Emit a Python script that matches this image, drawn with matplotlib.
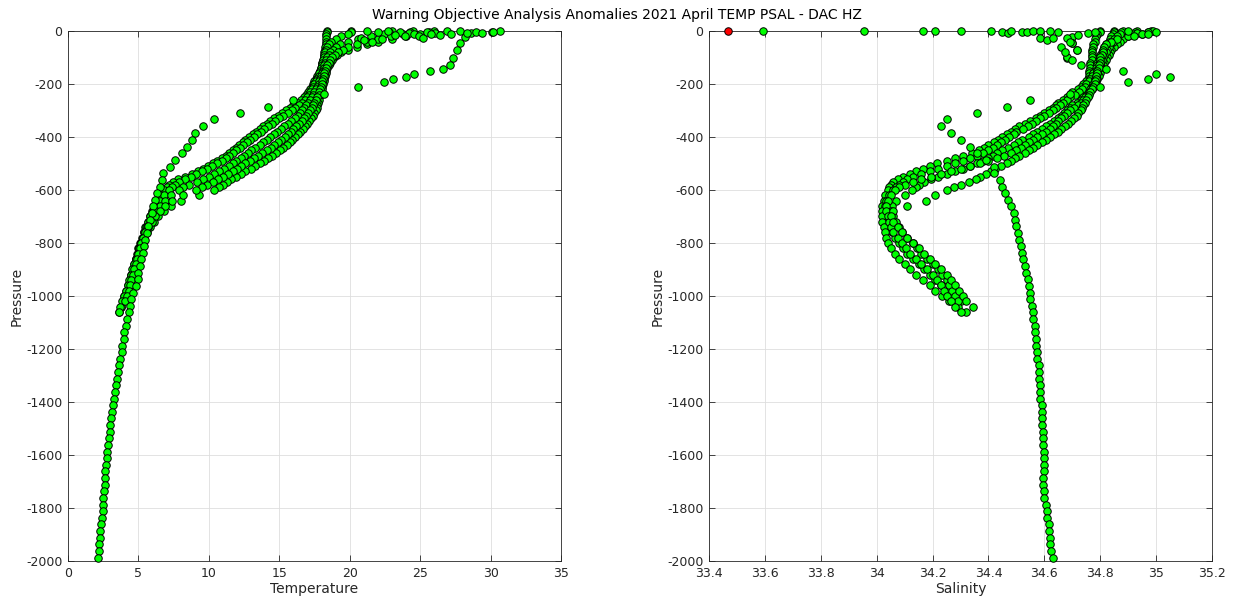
import matplotlib
matplotlib.use("Agg")
import matplotlib.pyplot as plt
from matplotlib.ticker import FuncFormatter

# pressure levels shared by the five main profiles
P_GRID = [0, -5, -10, -20, -30, -40, -50, -60, -70, -80,
          -90, -100, -110, -120, -130, -140, -150, -160, -170, -180,
          -190, -200, -210, -220, -230, -240, -250, -260, -270, -280,
          -290, -300, -310, -320, -330, -340, -350, -360, -370, -380,
          -390, -400, -410, -420, -430, -440, -450, -460, -470, -480,
          -490, -500, -510, -520, -530, -540, -550, -560, -570, -580,
          -590, -600, -620, -640, -660, -680, -700, -720, -740, -760,
          -780, -800, -820, -840, -860, -880, -900, -920, -940, -960,
          -980, -1000, -1020, -1040, -1060]

TEMP_1 = [18.4, 18.4, 18.35, 18.35, 18.3, 18.3, 18.3, 18.25, 18.25, 18.2,
          18.2, 18.15, 18.1, 18.05, 18.0, 17.95, 17.9, 17.8, 17.7, 17.6,
          17.5, 17.4, 17.3, 17.2, 17.05, 16.9, 16.75, 16.55, 16.3, 16.0,
          15.75, 15.5, 15.2, 14.9, 14.6, 14.35, 14.1, 13.85, 13.6, 13.35,
          13.1, 12.85, 12.6, 12.4, 12.15, 11.9, 11.7, 11.45, 11.2, 10.9,
          10.6, 10.3, 9.95, 9.6, 9.2, 8.8, 8.3, 7.8, 7.45, 7.2,
          7.0, 6.85, 6.6, 6.35, 6.15, 5.95, 5.8, 5.65, 5.5, 5.4,
          5.25, 5.1, 5.0, 4.9, 4.8, 4.7, 4.6, 4.5, 4.4, 4.25,
          4.15, 4.0, 3.9, 3.75]
TEMP_2 = [20.1, 20.1, 19.9, 19.4, 19.0, 18.7, 18.5, 18.4, 18.3, 18.25,
          18.2, 18.15, 18.1, 18.05, 18.0, 17.95, 17.9, 17.85, 17.8, 17.7,
          17.6, 17.5, 17.4, 17.3, 17.2, 17.1, 16.95, 16.8, 16.6, 16.4,
          16.15, 15.9, 15.6, 15.3, 15.0, 14.7, 14.45, 14.2, 13.95, 13.7,
          13.45, 13.2, 12.95, 12.7, 12.45, 12.2, 11.95, 11.7, 11.45, 11.2,
          10.9, 10.6, 10.25, 9.9, 9.5, 9.1, 8.7, 8.3, 7.9, 7.6,
          7.35, 7.15, 6.8, 6.5, 6.25, 6.0, 5.85, 5.7, 5.55, 5.4,
          5.3, 5.15, 5.05, 4.95, 4.85, 4.75, 4.6, 4.5, 4.4, 4.3,
          4.2, 4.05, 3.9, 3.75, 3.6]
TEMP_3 = [23.0, 22.8, 22.4, 21.5, 20.6, 19.9, 19.3, 19.0, 18.8, 18.6,
          18.5, 18.4, 18.3, 18.25, 18.2, 18.15, 18.1, 18.0, 17.95, 17.9,
          17.85, 17.8, 17.7, 17.6, 17.5, 17.4, 17.3, 17.2, 17.05, 16.9,
          16.75, 16.6, 16.5, 16.3, 16.1, 15.85, 15.6, 15.35, 15.1, 14.85,
          14.6, 14.35, 14.1, 13.85, 13.6, 13.3, 13.0, 12.75, 12.5, 12.25,
          11.95, 11.7, 11.4, 11.1, 10.75, 10.4, 10.0, 9.6, 9.15, 8.6,
          8.2, 7.85, 7.3, 6.9, 6.55, 6.25, 6.0, 5.8, 5.6, 5.45,
          5.3, 5.15, 5.05, 4.95, 4.85, 4.75, 4.65, 4.55, 4.45, 4.35,
          4.2, 4.1, 3.95]
TEMP_4 = [26.0, 25.6, 25.0, 24.0, 23.0, 22.0, 21.2, 20.5, 19.9, 19.4,
          19.1, 18.9, 18.75, 18.6, 18.5, 18.4, 18.35, 18.3, 18.25, 18.2,
          18.15, 18.1, 18.05, 18.0, 17.95, 17.9, 17.85, 17.8, 17.75, 17.7,
          17.65, 17.6, 17.5, 17.4, 17.25, 17.1, 16.95, 16.8, 16.65, 16.5,
          16.3, 16.1, 15.9, 15.75, 15.55, 15.3, 15.05, 14.8, 14.5, 14.2,
          13.9, 13.6, 13.3, 13.0, 12.6, 12.25, 11.95, 11.6, 11.3, 11.0,
          10.7, 10.4, 9.3, 8.0, 7.3, 6.8, 6.4, 6.1, 5.85, 5.6,
          5.4, 5.2, 5.05, 4.95, 4.85, 4.7, 4.55, 4.45, 4.35, 4.25,
          4.1, 4.0, 3.85, 3.7, 3.6]
TEMP_5 = [24.5, 24.3, 23.8, 22.9, 22.0, 21.2, 20.5, 19.9, 19.5, 19.2,
          18.95, 18.75, 18.6, 18.5, 18.4, 18.3, 18.25, 18.2, 18.15, 18.1,
          18.05, 18.0, 17.95, 17.9, 17.85, 17.8, 17.7, 17.6, 17.5, 17.4,
          17.3, 17.2, 17.05, 16.9, 16.75, 16.6, 16.4, 16.2, 16.0, 15.8,
          15.6, 15.4, 15.15, 14.9, 14.65, 14.4, 14.1, 13.8, 13.5, 13.2,
          12.9, 12.6, 12.3, 12.0, 11.7, 11.35, 11.0, 10.65, 10.3, 9.9,
          9.5, 9.1, 8.2, 7.4, 6.9, 6.5, 6.2, 5.95, 5.7, 5.5,
          5.35, 5.2, 5.1, 5.0, 4.9, 4.8, 4.7, 4.6, 4.5, 4.4,
          4.3, 4.2, 4.05]

PSAL_1 = [34.80, 34.80, 34.79, 34.785, 34.78, 34.78, 34.775, 34.775, 34.77, 34.77,
          34.77, 34.77, 34.77, 34.765, 34.765, 34.765, 34.76, 34.76, 34.76, 34.755,
          34.75, 34.74, 34.73, 34.72, 34.70, 34.69, 34.68, 34.665, 34.65, 34.64,
          34.63, 34.615, 34.60, 34.585, 34.57, 34.55, 34.53, 34.51, 34.495, 34.48,
          34.465, 34.45, 34.435, 34.42, 34.40, 34.385, 34.365, 34.34, 34.31, 34.28,
          34.25, 34.215, 34.19, 34.165, 34.14, 34.12, 34.095, 34.075, 34.06, 34.05,
          34.045, 34.04, 34.03, 34.025, 34.02, 34.025, 34.03, 34.035, 34.045, 34.055,
          34.065, 34.08, 34.095, 34.11, 34.13, 34.15, 34.17, 34.19, 34.21, 34.23,
          34.25, 34.27, 34.30, 34.345]
PSAL_2 = [34.85, 34.85, 34.845, 34.84, 34.835, 34.83, 34.82, 34.815, 34.81, 34.805,
          34.80, 34.80, 34.795, 34.79, 34.79, 34.785, 34.78, 34.775, 34.77, 34.765,
          34.76, 34.75, 34.745, 34.735, 34.725, 34.71, 34.69, 34.68, 34.665, 34.655,
          34.64, 34.63, 34.615, 34.60, 34.585, 34.57, 34.555, 34.54, 34.525, 34.50,
          34.49, 34.475, 34.46, 34.445, 34.43, 34.415, 34.40, 34.38, 34.36, 34.335,
          34.31, 34.28, 34.25, 34.22, 34.19, 34.16, 34.13, 34.11, 34.095, 34.08,
          34.07, 34.06, 34.045, 34.035, 34.03, 34.02, 34.02, 34.02, 34.025, 34.03,
          34.035, 34.04, 34.05, 34.065, 34.08, 34.10, 34.12, 34.14, 34.165, 34.19,
          34.21, 34.235, 34.26, 34.29, 34.32]
PSAL_3 = [34.93, 34.925, 34.92, 34.90, 34.88, 34.87, 34.86, 34.85, 34.84, 34.835,
          34.83, 34.825, 34.82, 34.815, 34.81, 34.805, 34.80, 34.80, 34.795, 34.79,
          34.785, 34.78, 34.775, 34.77, 34.76, 34.75, 34.74, 34.73, 34.715, 34.70,
          34.69, 34.68, 34.67, 34.66, 34.65, 34.635, 34.62, 34.605, 34.59, 34.575,
          34.56, 34.545, 34.52, 34.505, 34.49, 34.47, 34.45, 34.43, 34.415, 34.40,
          34.38, 34.36, 34.335, 34.31, 34.28, 34.25, 34.22, 34.195, 34.17, 34.15,
          34.14, 34.125, 34.10, 34.07, 34.055, 34.05, 34.06, 34.07, 34.08, 34.09,
          34.11, 34.13, 34.145, 34.16, 34.18, 34.20, 34.22, 34.235, 34.25, 34.26,
          34.27, 34.28, 34.29]
PSAL_4 = [34.88, 34.875, 34.87, 34.86, 34.85, 34.845, 34.835, 34.83, 34.825, 34.82,
          34.815, 34.81, 34.805, 34.80, 34.80, 34.795, 34.79, 34.79, 34.785, 34.78,
          34.78, 34.775, 34.77, 34.765, 34.76, 34.755, 34.745, 34.74, 34.73, 34.72,
          34.705, 34.69, 34.68, 34.67, 34.66, 34.65, 34.64, 34.63, 34.62, 34.605,
          34.59, 34.575, 34.56, 34.545, 34.53, 34.515, 34.50, 34.48, 34.455, 34.43,
          34.40, 34.37, 34.335, 34.30, 34.265, 34.23, 34.195, 34.16, 34.13, 34.10,
          34.08, 34.065, 34.05, 34.04, 34.035, 34.035, 34.04, 34.045, 34.05, 34.06,
          34.075, 34.09, 34.105, 34.12, 34.14, 34.16, 34.18, 34.20, 34.215, 34.23,
          34.24, 34.25, 34.265, 34.28, 34.30]
PSAL_5 = [34.98, 34.97, 34.95, 34.90, 34.86, 34.84, 34.82, 34.815, 34.81, 34.81,
          34.805, 34.80, 34.80, 34.80, 34.795, 34.795, 34.79, 34.79, 34.785, 34.785,
          34.78, 34.78, 34.775, 34.77, 34.765, 34.76, 34.755, 34.75, 34.745, 34.74,
          34.735, 34.73, 34.72, 34.715, 34.705, 34.695, 34.685, 34.675, 34.66, 34.65,
          34.635, 34.62, 34.605, 34.59, 34.575, 34.56, 34.545, 34.53, 34.51, 34.495,
          34.48, 34.465, 34.445, 34.425, 34.41, 34.39, 34.37, 34.355, 34.33, 34.30,
          34.275, 34.25, 34.21, 34.175, 34.11, 34.06, 34.05, 34.06, 34.075, 34.09,
          34.11, 34.13, 34.15, 34.17, 34.19, 34.21, 34.23, 34.25, 34.265, 34.28,
          34.295, 34.31, 34.32]

# the one deep profile (down to ~2000 dbar) with its anomalous upper part
PRES_DEEP = [-2, -5, -9, -22, -46, -72, -103, -128, -143, -150,
             -162, -173, -183, -193, -212, -237, -260, -286, -311, -333,
             -358, -386, -411, -437, -461, -487, -512, -537, -562, -587,
             -612, -637, -662, -687, -712, -737, -762, -787, -812, -837,
             -862, -887, -912, -937, -962, -987, -1012, -1037, -1062, -1087,
             -1112, -1137, -1162, -1187, -1212, -1237, -1262, -1287, -1312, -1337,
             -1362, -1387, -1412, -1437, -1462, -1487, -1512, -1537, -1562, -1587,
             -1612, -1637, -1662, -1687, -1712, -1737, -1762, -1787, -1812, -1837,
             -1862, -1887, -1912, -1937, -1962, -1987]
TEMP_DEEP = [30.7, 30.1, 28.6, 28.2, 27.8, 27.6, 27.3, 27.1, 26.6, 25.7,
             24.6, 24.0, 23.1, 22.4, 20.6, 18.2, 16.0, 14.2, 12.2, 10.4,
             9.6, 9.0, 8.78, 8.43, 8.07, 7.6, 7.24, 6.75, 6.65, 6.5,
             6.35, 6.2, 6.05, 5.95, 5.85, 5.7, 5.6, 5.5, 5.4, 5.3,
             5.2, 5.1, 5.0, 4.95, 4.8, 4.65, 4.5, 4.4, 4.3, 4.2,
             4.1, 4.0, 3.95, 3.85, 3.8, 3.7, 3.6, 3.55, 3.45, 3.4,
             3.35, 3.25, 3.2, 3.1, 3.05, 3.0, 2.95, 2.9, 2.85, 2.8,
             2.75, 2.7, 2.65, 2.65, 2.6, 2.55, 2.5, 2.45, 2.45, 2.4,
             2.35, 2.3, 2.25, 2.2, 2.2, 2.15]
PSAL_DEEP = [34.99, 34.97, 34.93, 34.70, 34.70, 34.715, 34.68, 34.73, 34.82, 34.88,
             35.0, 35.05, 34.97, 34.90, 34.80, 34.69, 34.55, 34.465, 34.36, 34.25,
             34.23, 34.265, 34.30, 34.334, 34.36, 34.39, 34.42, 34.42, 34.44, 34.45,
             34.46, 34.47, 34.48, 34.49, 34.495, 34.50, 34.505, 34.51, 34.515, 34.52,
             34.525, 34.53, 34.535, 34.54, 34.545, 34.55, 34.55, 34.555, 34.56, 34.56,
             34.565, 34.565, 34.57, 34.57, 34.575, 34.575, 34.58, 34.58, 34.58, 34.585,
             34.585, 34.585, 34.59, 34.59, 34.59, 34.59, 34.595, 34.595, 34.595, 34.60,
             34.60, 34.60, 34.60, 34.595, 34.595, 34.60, 34.60, 34.605, 34.61, 34.61,
             34.615, 34.615, 34.62, 34.62, 34.625, 34.63]

# scattered near-surface values
SURF_T_PRES = [-2, -5, 0, -3, -8, -12, -20, -27, -8, 0, 0, -3, -9, -15, -30,
               -40, -25, -5, -12, -18, -35, -10, -6, -14, -4]
SURF_TEMP = [21.2, 22.0, 22.7, 23.6, 24.2, 24.6, 24.9, 25.2, 26.05, 26.9, 27.8, 29.0, 29.4, 23.2, 22.3,
             21.6, 20.8, 25.5, 25.8, 23.9, 21.0, 27.2, 28.3, 26.4, 30.2]
SURF_S_PRES = [0, 0, 0, 0, 0, 0, -3, -7, 0, -5, -5, -2, 0, -25, -34, 0, -25,
               -3, -25, -97, -46, -72, -8, -15, -40, -60, -80, -110, -5, -2, -10, -4, -12, -20]
SURF_PSAL = [33.594, 33.955, 34.166, 34.21, 34.30, 34.41, 34.447, 34.47, 34.48, 34.52, 34.537, 34.56, 34.585,
             34.585, 34.61, 34.62, 34.63, 34.65, 34.68, 34.68, 34.70, 34.715, 34.757, 34.72, 34.69, 34.66,
             34.675, 34.70, 34.78, 34.90, 34.95, 35.0, 34.97, 34.92]

# flagged (red) salinity value
FLAG_PRES = [0]
FLAG_PSAL = [33.468]

TITLE = "Warning Objective Analysis Anomalies 2021 April TEMP PSAL - DAC HZ"

plt.rcParams['font.family'] = 'DejaVu Sans'
plt.rcParams['axes.unicode_minus'] = False

GREY = '#262626'


def dots(ax, x, y, color='#00ff00'):
    ax.plot(x, y, linestyle='none', marker='o', markersize=5.4,
            markerfacecolor=color, markeredgecolor='black',
            markeredgewidth=0.7, clip_on=False, zorder=3)


def style_axes(ax, xlim, xticks, xlabel):
    ax.set_xlim(*xlim)
    ax.set_ylim(-2000, 0)
    ax.set_xticks(xticks)
    ax.set_yticks(range(-2000, 1, 200))
    ax.xaxis.set_major_formatter(FuncFormatter(lambda v, p: '%g' % round(v, 2)))
    ax.grid(True, color='#dedede', linewidth=0.6)
    ax.set_axisbelow(True)
    ax.tick_params(direction='in', length=4, width=0.6, top=True, right=True,
                   labelsize=9, colors=GREY, pad=4)
    for s in ax.spines.values():
        s.set_color(GREY)
        s.set_linewidth(0.6)
    ax.set_xlabel(xlabel, fontsize=10, color=GREY, labelpad=2)
    ax.set_ylabel("Pressure", fontsize=10, color=GREY, labelpad=2)


fig = plt.figure(figsize=(12.34, 6.01), dpi=100)
ax1 = fig.add_axes([0.0551, 0.0666, 0.3995, 0.8819])
ax2 = fig.add_axes([0.5746, 0.0666, 0.4076, 0.8819])

temps = [TEMP_1, TEMP_2, TEMP_3, TEMP_4, TEMP_5]
psals = [PSAL_1, PSAL_2, PSAL_3, PSAL_4, PSAL_5]

for t in temps:
    dots(ax1, t, P_GRID[:len(t)])
dots(ax1, TEMP_DEEP, PRES_DEEP)
dots(ax1, SURF_TEMP, SURF_T_PRES)

for s in psals:
    dots(ax2, s, P_GRID[:len(s)])
dots(ax2, PSAL_DEEP, PRES_DEEP)
dots(ax2, SURF_PSAL, SURF_S_PRES)
dots(ax2, FLAG_PSAL, FLAG_PRES, color='red')

style_axes(ax1, (0, 35), range(0, 36, 5), "Temperature")
style_axes(ax2, (33.4, 35.2), [33.4 + 0.2 * i for i in range(10)], "Salinity")

fig.text(0.5, 1 - 15 / 601, TITLE, ha='center', va='center', fontsize=10, color='black')

fig.savefig('out.png', dpi=100)
